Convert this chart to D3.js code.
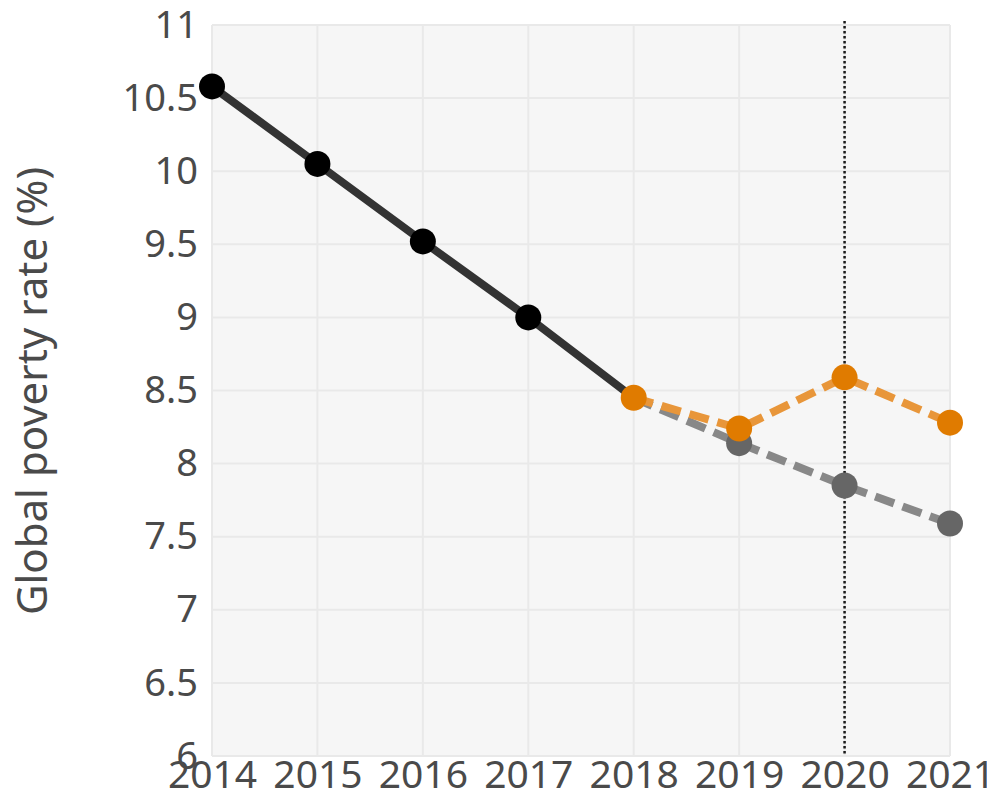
<!DOCTYPE html>
<html><head><meta charset="utf-8">
<script src="https://cdn.jsdelivr.net/npm/d3@7"></script>
<style>
html,body{margin:0;padding:0;background:#fff;overflow:hidden;}
svg{display:block;font-family:"Noto Sans",sans-serif;}
</style></head>
<body>
<script>
const years = [2014, 2015, 2016, 2017, 2018, 2019, 2020, 2021];
const histYears = [2014, 2015, 2016, 2017, 2018];
const histValues = [10.58, 10.05, 9.52, 9.0, 8.45];
const projYears = [2018, 2019, 2020, 2021];
const baselineValues = [8.45, 8.14, 7.85, 7.59];
const covidValues = [8.45, 8.24, 8.59, 8.28];
const yTicks = [6, 6.5, 7, 7.5, 8, 8.5, 9, 9.5, 10, 10.5, 11];
const markerYear = 2020;
const yTitle = "Global poverty rate (%)";

const W = 987, H = 800;
const m = {left: 212, top: 25, right: 37, bottom: 44};
const pw = W - m.left - m.right, ph = H - m.top - m.bottom;

const svg = d3.select("body").append("svg").attr("width", W).attr("height", H);
const x = d3.scaleLinear().domain([2014, 2021]).range([m.left, m.left + pw]);
const y = d3.scaleLinear().domain([6, 11]).range([m.top + ph, m.top]);

svg.append("rect").attr("x", m.left).attr("y", m.top).attr("width", pw).attr("height", ph).attr("fill", "#f6f6f6");

// gridlines
svg.append("g").selectAll("line").data(yTicks).join("line")
  .attr("x1", m.left).attr("x2", m.left + pw)
  .attr("y1", d => y(d)).attr("y2", d => y(d))
  .attr("stroke", "#e9e9e9").attr("stroke-width", 2);
svg.append("g").selectAll("line").data(years).join("line")
  .attr("x1", d => x(d)).attr("x2", d => x(d))
  .attr("y1", m.top).attr("y2", m.top + ph)
  .attr("stroke", "#e9e9e9").attr("stroke-width", 2);

// axes
const yAxis = svg.append("g").attr("transform", `translate(${m.left},0)`)
  .call(d3.axisLeft(y).tickValues(yTicks).tickSize(0).tickPadding(14).tickFormat(d3.format("~g")));
yAxis.select(".domain").remove();
yAxis.selectAll("text").attr("font-size", 38).attr("fill", "#4a4a4a").attr("font-family", "Noto Sans");

const xAxis = svg.append("g").attr("transform", `translate(0,${m.top + ph})`)
  .call(d3.axisBottom(x).tickValues(years).tickSize(0).tickPadding(4).tickFormat(d3.format("d")));
xAxis.select(".domain").remove();
xAxis.selectAll("text").attr("font-size", 39).attr("fill", "#4a4a4a").attr("font-family", "Noto Sans");

svg.append("text").attr("transform", `translate(47,${391}) rotate(-90)`)
  .attr("text-anchor", "middle").attr("font-size", 42).attr("fill", "#4a4a4a")
  .attr("font-family", "Noto Sans").text(yTitle);

// vertical dotted line
svg.append("line").attr("x1", x(markerYear)).attr("x2", x(markerYear))
  .attr("y1", m.top - 4).attr("y2", m.top + ph)
  .attr("stroke", "#1a1a1a").attr("stroke-width", 2.5).attr("stroke-dasharray", "2.5,2.5");

const line = d3.line().x(d => x(d[0])).y(d => y(d[1]));
const hist = histYears.map((d, i) => [d, histValues[i]]);
const base = projYears.map((d, i) => [d, baselineValues[i]]);
const covid = projYears.map((d, i) => [d, covidValues[i]]);

svg.append("path").datum(hist).attr("d", line).attr("fill", "none")
  .attr("stroke", "#333").attr("stroke-width", 8);
svg.append("path").datum(base).attr("d", line).attr("fill", "none")
  .attr("stroke", "#888").attr("stroke-width", 8).attr("stroke-dasharray", "20,9");
svg.append("path").datum(covid).attr("d", line).attr("fill", "none")
  .attr("stroke", "#e8963a").attr("stroke-width", 8).attr("stroke-dasharray", "20,9");

svg.append("g").selectAll("circle").data(hist.slice(0, 4)).join("circle")
  .attr("cx", d => x(d[0])).attr("cy", d => y(d[1])).attr("r", 13).attr("fill", "#000");
svg.append("g").selectAll("circle").data(base.slice(1)).join("circle")
  .attr("cx", d => x(d[0])).attr("cy", d => y(d[1])).attr("r", 13).attr("fill", "#666");
svg.append("g").selectAll("circle").data(covid).join("circle")
  .attr("cx", d => x(d[0])).attr("cy", d => y(d[1])).attr("r", 13).attr("fill", "#e07b00");
</script>
</body></html>
